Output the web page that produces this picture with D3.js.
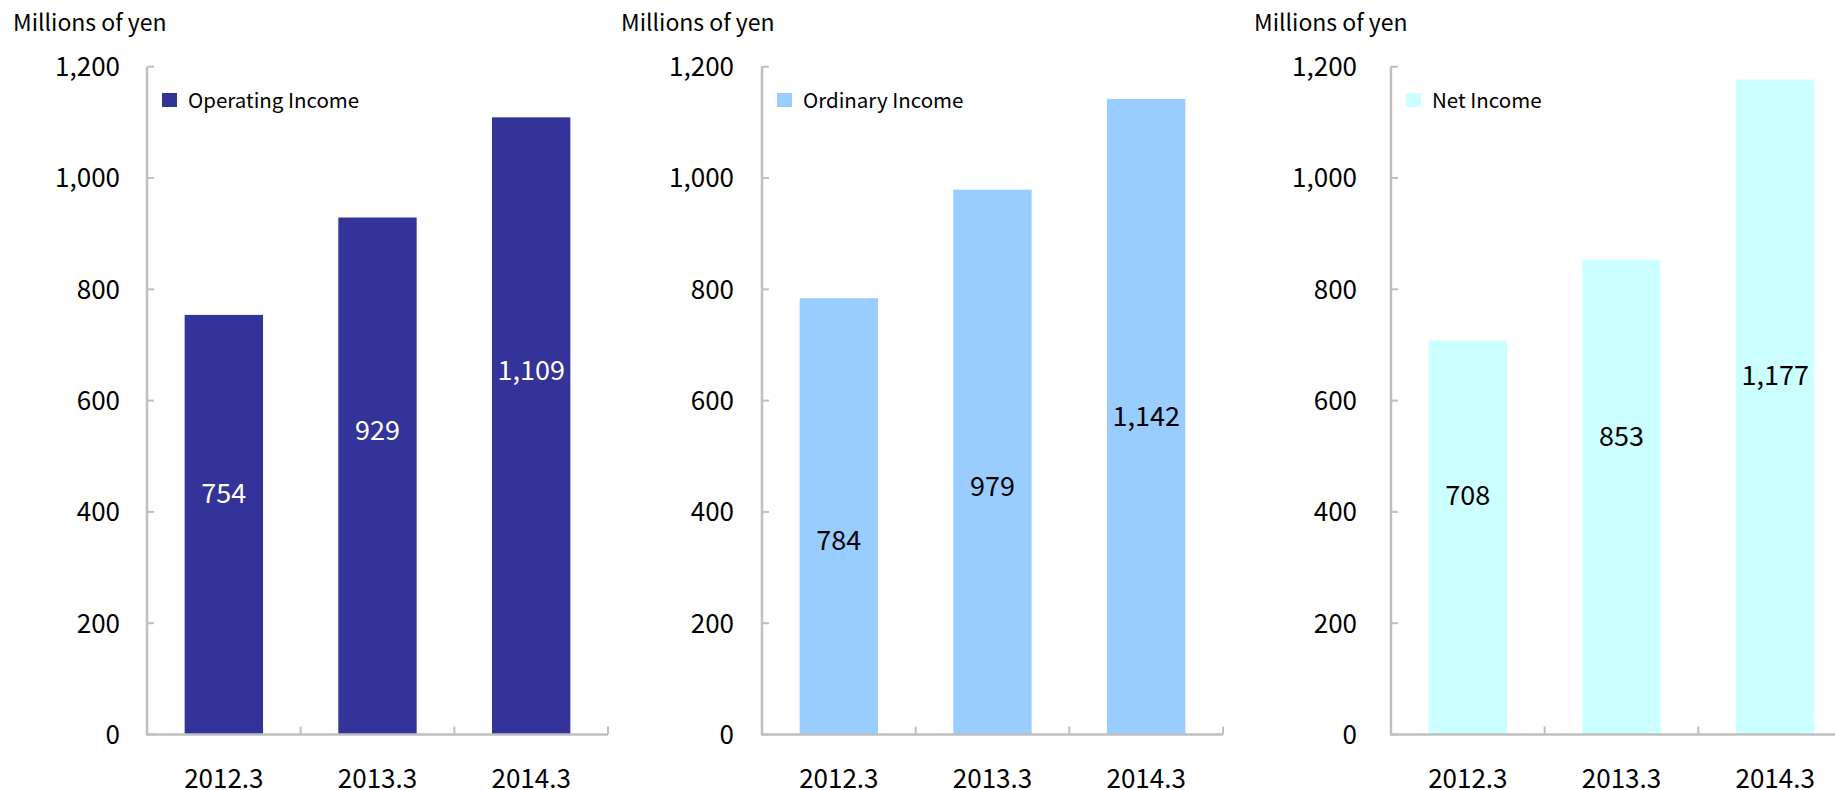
<!DOCTYPE html>
<html>
<head>
<meta charset="utf-8">
<script src="https://cdn.jsdelivr.net/npm/d3@7"></script>
<style>
  body { margin: 0; background: #fff; }
  svg text { font-family: "Noto Sans CJK JP", "Noto Sans", sans-serif; fill: #000; }
</style>
</head>
<body>
<svg id="chart" width="1835" height="790"></svg>
<script>
var years = ["2012.3", "2013.3", "2014.3"];
var operatingIncome = [754, 929, 1109];
var ordinaryIncome = [784, 979, 1142];
var netIncome = [708, 853, 1177];
var yTicks = [0, 200, 400, 600, 800, 1000, 1200];
var seriesNames = ["Operating Income", "Ordinary Income", "Net Income"];
var seriesColors = ["#333399", "#99ccff", "#ccffff"];
var labelColors = ["#ffffff", "#000000", "#000000"];
// where each data label sits, in value units (placed by hand in the original)
var labelLevels = [[433, 547, 654], [349, 446, 572], [429, 535, 645]];

var panelLeft = [147, 762, 1391];
var labelGap = [27, 28, 34];
var titleLeft = [13, 621, 1254];
var plotW = 461;
var plotTop = 66.7, plotBottom = 734.5;
var axisColor = "#bfbfbf";

var svg = d3.select("#chart");
var y = d3.scaleLinear().domain([0, 1200]).range([plotBottom, plotTop]);
var allValues = [operatingIncome, ordinaryIncome, netIncome];

allValues.forEach(function (values, p) {
  var g = svg.append("g").attr("transform", "translate(" + panelLeft[p] + ",0)");
  var x = d3.scaleBand().domain(years).range([0, plotW])
    .paddingInner(0.49).paddingOuter(0.245);
  var step = x.step();

  // unit title
  svg.append("text")
    .attr("x", titleLeft[p]).attr("y", 31)
    .style("font-size", "23px")
    .text("Millions of yen");

  // bars
  g.selectAll(".bar")
    .data(values)
    .enter()
    .append("rect")
    .attr("x", function (d, i) { return x(years[i]); })
    .attr("y", function (d) { return y(d); })
    .attr("width", x.bandwidth())
    .attr("height", function (d) { return y(0) - y(d); })
    .attr("fill", seriesColors[p]);

  // y axis
  g.append("line")
    .attr("x1", 0).attr("x2", 0).attr("y1", y(1200)).attr("y2", y(0))
    .attr("stroke", axisColor).attr("stroke-width", 2.5);
  g.selectAll(".ytick")
    .data(yTicks)
    .enter()
    .append("line")
    .attr("x1", 0).attr("x2", 7)
    .attr("y1", function (d) { return y(d); })
    .attr("y2", function (d) { return y(d); })
    .attr("stroke", axisColor).attr("stroke-width", 2);
  g.selectAll(".ylab")
    .data(yTicks)
    .enter()
    .append("text")
    .attr("x", -labelGap[p])
    .attr("y", function (d) { return y(d); })
    .attr("dy", "0.36em")
    .attr("text-anchor", "end")
    .style("font-size", "26px")
    .text(function (d) { return d3.format(",")(d); });

  // x axis
  g.append("line")
    .attr("x1", -1).attr("x2", plotW).attr("y1", y(0)).attr("y2", y(0))
    .attr("stroke", axisColor).attr("stroke-width", 2.5);
  g.selectAll(".xtick")
    .data(d3.range(1, years.length + 1))
    .enter()
    .append("line")
    .attr("x1", function (d) { return d * step; })
    .attr("x2", function (d) { return d * step; })
    .attr("y1", y(0)).attr("y2", y(0) - 8)
    .attr("stroke", axisColor).attr("stroke-width", 2);
  g.selectAll(".xlab")
    .data(years)
    .enter()
    .append("text")
    .attr("x", function (d) { return x(d) + x.bandwidth() / 2; })
    .attr("y", 788)
    .attr("text-anchor", "middle")
    .style("font-size", "26px")
    .text(function (d) { return d; });

  // data labels
  g.selectAll(".val")
    .data(values)
    .enter()
    .append("text")
    .attr("x", function (d, i) { return x(years[i]) + x.bandwidth() / 2; })
    .attr("y", function (d, i) { return y(labelLevels[p][i]); })
    .attr("dy", "0.36em")
    .attr("text-anchor", "middle")
    .style("font-size", "27px")
    .style("fill", labelColors[p])
    .text(function (d) { return d3.format(",")(d); });

  // legend
  g.append("rect")
    .attr("x", 15).attr("y", 93).attr("width", 15).attr("height", 14)
    .attr("fill", seriesColors[p]);
  g.append("text")
    .attr("x", 41).attr("y", 108)
    .style("font-size", "20.5px")
    .text(seriesNames[p]);
});
</script>
</body>
</html>
